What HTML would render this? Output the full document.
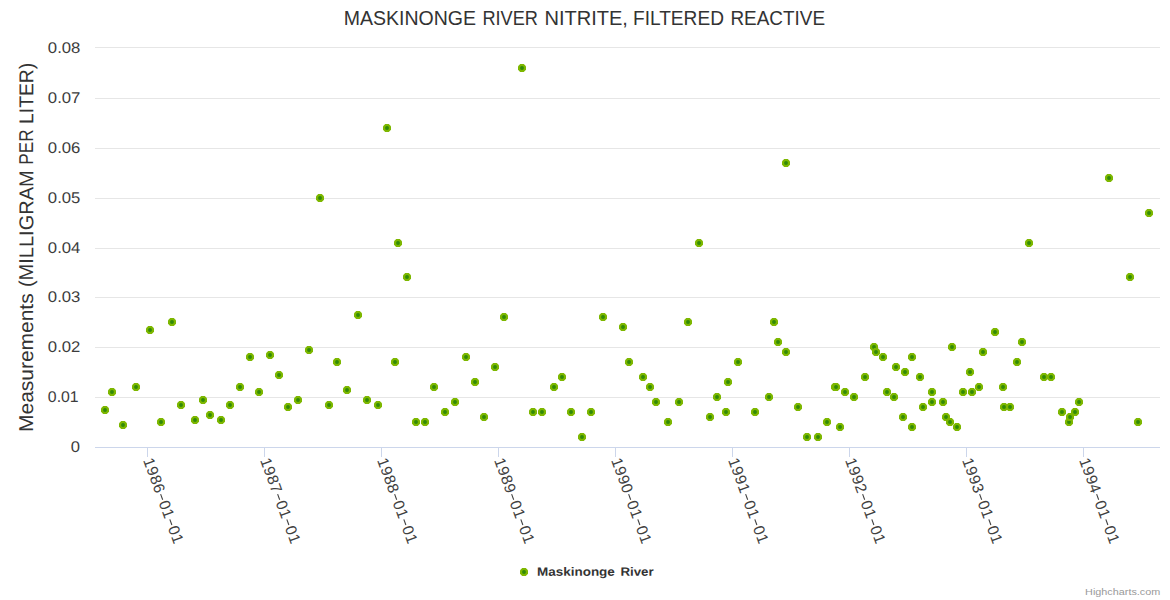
<!DOCTYPE html>
<html><head><meta charset="utf-8"><title>Maskinonge River Nitrite</title>
<style>
html,body{margin:0;padding:0;background:#fff;}
body{width:1170px;height:600px;overflow:hidden;font-family:"Liberation Sans",sans-serif;}
svg{display:block;font-family:"Liberation Sans",sans-serif;}
</style></head><body>
<svg width="1170" height="600" viewBox="0 0 1170 600">
<rect width="1170" height="600" fill="#ffffff"/>
<g fill="#e6e6e6" shape-rendering="crispEdges"><rect x="95" y="47" width="1065" height="1"/><rect x="95" y="98" width="1065" height="1"/><rect x="95" y="148" width="1065" height="1"/><rect x="95" y="198" width="1065" height="1"/><rect x="95" y="248" width="1065" height="1"/><rect x="95" y="297" width="1065" height="1"/><rect x="95" y="347" width="1065" height="1"/><rect x="95" y="397" width="1065" height="1"/></g>
<g fill="#ccd6eb" shape-rendering="crispEdges"><rect x="95" y="447" width="1065" height="1"/><rect x="147" y="448" width="1" height="9"/><rect x="264" y="448" width="1" height="9"/><rect x="381" y="448" width="1" height="9"/><rect x="498" y="448" width="1" height="9"/><rect x="615" y="448" width="1" height="9"/><rect x="732" y="448" width="1" height="9"/><rect x="849" y="448" width="1" height="9"/><rect x="966" y="448" width="1" height="9"/><rect x="1083" y="448" width="1" height="9"/></g>
<g font-size="20.5px" fill="#333333"><text x="343.76" y="24.9" textLength="132.27" lengthAdjust="spacingAndGlyphs">MASKINONGE</text><text x="482.42" y="24.9" textLength="55.58" lengthAdjust="spacingAndGlyphs">RIVER</text><text x="544.43" y="24.9" textLength="83.48" lengthAdjust="spacingAndGlyphs">NITRITE,</text><text x="633.01" y="24.9" textLength="90.98" lengthAdjust="spacingAndGlyphs">FILTERED</text><text x="730.42" y="24.9" textLength="94.67" lengthAdjust="spacingAndGlyphs">REACTIVE</text></g>
<g transform="translate(33,500) rotate(-89.97)" font-size="20px" fill="#333333"><text x="68.14" y="0" textLength="138.49" lengthAdjust="spacingAndGlyphs">Measurements</text><text x="212.9" y="0" textLength="116.86" lengthAdjust="spacingAndGlyphs">(MILLIGRAM</text><text x="335.34" y="0" textLength="35.22" lengthAdjust="spacingAndGlyphs">PER</text><text x="376.01" y="0" textLength="61.29" lengthAdjust="spacingAndGlyphs">LITER)</text></g>
<g font-size="15.5px" fill="#3c3c3c"><text transform="rotate(0.03 64 53)" x="47.87" y="53" textLength="32.5" lengthAdjust="spacingAndGlyphs">0.08</text><text transform="rotate(0.03 64 103)" x="47.87" y="103" textLength="32.5" lengthAdjust="spacingAndGlyphs">0.07</text><text transform="rotate(0.03 64 153)" x="47.87" y="153" textLength="32.5" lengthAdjust="spacingAndGlyphs">0.06</text><text transform="rotate(0.03 64 203)" x="47.87" y="203" textLength="32.5" lengthAdjust="spacingAndGlyphs">0.05</text><text transform="rotate(0.03 64 253)" x="47.87" y="253" textLength="32.5" lengthAdjust="spacingAndGlyphs">0.04</text><text transform="rotate(0.03 64 302)" x="47.87" y="302" textLength="32.5" lengthAdjust="spacingAndGlyphs">0.03</text><text transform="rotate(0.03 64 352)" x="47.87" y="352" textLength="32.5" lengthAdjust="spacingAndGlyphs">0.02</text><text transform="rotate(0.03 64 402)" x="47.87" y="402" textLength="30.8" lengthAdjust="spacingAndGlyphs">0.01</text><text transform="rotate(0.03 75 452)" x="70.89" y="452" textLength="9.23" lengthAdjust="spacingAndGlyphs">0</text></g>
<g fill="#404040"><g transform="translate(143.10,460.20) rotate(70)" font-size="15.5px"><text x="0.00 9.18 18.36 27.54" y="0">1986</text><text x="45.22 54.40" y="0">01</text><text x="72.08 81.26" y="0">01</text><rect x="37.92" y="-5.4" width="6" height="1.1"/><rect x="64.78" y="-5.4" width="6" height="1.1"/></g><g transform="translate(260.10,460.20) rotate(70)" font-size="15.5px"><text x="0.00 9.18 18.36 27.54" y="0">1987</text><text x="45.22 54.40" y="0">01</text><text x="72.08 81.26" y="0">01</text><rect x="37.92" y="-5.4" width="6" height="1.1"/><rect x="64.78" y="-5.4" width="6" height="1.1"/></g><g transform="translate(377.10,460.20) rotate(70)" font-size="15.5px"><text x="0.00 9.18 18.36 27.54" y="0">1988</text><text x="45.22 54.40" y="0">01</text><text x="72.08 81.26" y="0">01</text><rect x="37.92" y="-5.4" width="6" height="1.1"/><rect x="64.78" y="-5.4" width="6" height="1.1"/></g><g transform="translate(494.10,460.20) rotate(70)" font-size="15.5px"><text x="0.00 9.18 18.36 27.54" y="0">1989</text><text x="45.22 54.40" y="0">01</text><text x="72.08 81.26" y="0">01</text><rect x="37.92" y="-5.4" width="6" height="1.1"/><rect x="64.78" y="-5.4" width="6" height="1.1"/></g><g transform="translate(611.10,460.20) rotate(70)" font-size="15.5px"><text x="0.00 9.18 18.36 27.54" y="0">1990</text><text x="45.22 54.40" y="0">01</text><text x="72.08 81.26" y="0">01</text><rect x="37.92" y="-5.4" width="6" height="1.1"/><rect x="64.78" y="-5.4" width="6" height="1.1"/></g><g transform="translate(728.10,460.20) rotate(70)" font-size="15.5px"><text x="0.00 9.18 18.36 27.54" y="0">1991</text><text x="45.22 54.40" y="0">01</text><text x="72.08 81.26" y="0">01</text><rect x="37.92" y="-5.4" width="6" height="1.1"/><rect x="64.78" y="-5.4" width="6" height="1.1"/></g><g transform="translate(845.10,460.20) rotate(70)" font-size="15.5px"><text x="0.00 9.18 18.36 27.54" y="0">1992</text><text x="45.22 54.40" y="0">01</text><text x="72.08 81.26" y="0">01</text><rect x="37.92" y="-5.4" width="6" height="1.1"/><rect x="64.78" y="-5.4" width="6" height="1.1"/></g><g transform="translate(962.10,460.20) rotate(70)" font-size="15.5px"><text x="0.00 9.18 18.36 27.54" y="0">1993</text><text x="45.22 54.40" y="0">01</text><text x="72.08 81.26" y="0">01</text><rect x="37.92" y="-5.4" width="6" height="1.1"/><rect x="64.78" y="-5.4" width="6" height="1.1"/></g><g transform="translate(1079.10,460.20) rotate(70)" font-size="15.5px"><text x="0.00 9.18 18.36 27.54" y="0">1994</text><text x="45.22 54.40" y="0">01</text><text x="72.08 81.26" y="0">01</text><rect x="37.92" y="-5.4" width="6" height="1.1"/><rect x="64.78" y="-5.4" width="6" height="1.1"/></g></g>
<g><path d="M103.2 406H106.8L109 408.2V411.8L106.8 414H103.2L101 411.8V408.2Z" fill="#7db700"/><circle cx="105" cy="410" r="1.95" fill="#318a08"/><path d="M110.2 388H113.8L116 390.2V393.8L113.8 396H110.2L108 393.8V390.2Z" fill="#7db700"/><circle cx="112" cy="392" r="1.95" fill="#318a08"/><path d="M121.2 421H124.8L127 423.2V426.8L124.8 429H121.2L119 426.8V423.2Z" fill="#7db700"/><circle cx="123" cy="425" r="1.95" fill="#318a08"/><path d="M134.2 383H137.8L140 385.2V388.8L137.8 391H134.2L132 388.8V385.2Z" fill="#7db700"/><circle cx="136" cy="387" r="1.95" fill="#318a08"/><path d="M148.2 326H151.8L154 328.2V331.8L151.8 334H148.2L146 331.8V328.2Z" fill="#7db700"/><circle cx="150" cy="330" r="1.95" fill="#318a08"/><path d="M159.2 418H162.8L165 420.2V423.8L162.8 426H159.2L157 423.8V420.2Z" fill="#7db700"/><circle cx="161" cy="422" r="1.95" fill="#318a08"/><path d="M170.2 318H173.8L176 320.2V323.8L173.8 326H170.2L168 323.8V320.2Z" fill="#7db700"/><circle cx="172" cy="322" r="1.95" fill="#318a08"/><path d="M179.2 401H182.8L185 403.2V406.8L182.8 409H179.2L177 406.8V403.2Z" fill="#7db700"/><circle cx="181" cy="405" r="1.95" fill="#318a08"/><path d="M193.2 416H196.8L199 418.2V421.8L196.8 424H193.2L191 421.8V418.2Z" fill="#7db700"/><circle cx="195" cy="420" r="1.95" fill="#318a08"/><path d="M201.2 396H204.8L207 398.2V401.8L204.8 404H201.2L199 401.8V398.2Z" fill="#7db700"/><circle cx="203" cy="400" r="1.95" fill="#318a08"/><path d="M208.2 411H211.8L214 413.2V416.8L211.8 419H208.2L206 416.8V413.2Z" fill="#7db700"/><circle cx="210" cy="415" r="1.95" fill="#318a08"/><path d="M219.2 416H222.8L225 418.2V421.8L222.8 424H219.2L217 421.8V418.2Z" fill="#7db700"/><circle cx="221" cy="420" r="1.95" fill="#318a08"/><path d="M228.2 401H231.8L234 403.2V406.8L231.8 409H228.2L226 406.8V403.2Z" fill="#7db700"/><circle cx="230" cy="405" r="1.95" fill="#318a08"/><path d="M238.2 383H241.8L244 385.2V388.8L241.8 391H238.2L236 388.8V385.2Z" fill="#7db700"/><circle cx="240" cy="387" r="1.95" fill="#318a08"/><path d="M248.2 353H251.8L254 355.2V358.8L251.8 361H248.2L246 358.8V355.2Z" fill="#7db700"/><circle cx="250" cy="357" r="1.95" fill="#318a08"/><path d="M257.2 388H260.8L263 390.2V393.8L260.8 396H257.2L255 393.8V390.2Z" fill="#7db700"/><circle cx="259" cy="392" r="1.95" fill="#318a08"/><path d="M268.2 351H271.8L274 353.2V356.8L271.8 359H268.2L266 356.8V353.2Z" fill="#7db700"/><circle cx="270" cy="355" r="1.95" fill="#318a08"/><path d="M277.2 371H280.8L283 373.2V376.8L280.8 379H277.2L275 376.8V373.2Z" fill="#7db700"/><circle cx="279" cy="375" r="1.95" fill="#318a08"/><path d="M286.2 403H289.8L292 405.2V408.8L289.8 411H286.2L284 408.8V405.2Z" fill="#7db700"/><circle cx="288" cy="407" r="1.95" fill="#318a08"/><path d="M296.2 396H299.8L302 398.2V401.8L299.8 404H296.2L294 401.8V398.2Z" fill="#7db700"/><circle cx="298" cy="400" r="1.95" fill="#318a08"/><path d="M307.2 346H310.8L313 348.2V351.8L310.8 354H307.2L305 351.8V348.2Z" fill="#7db700"/><circle cx="309" cy="350" r="1.95" fill="#318a08"/><path d="M318.2 194H321.8L324 196.2V199.8L321.8 202H318.2L316 199.8V196.2Z" fill="#7db700"/><circle cx="320" cy="198" r="1.95" fill="#318a08"/><path d="M327.2 401H330.8L333 403.2V406.8L330.8 409H327.2L325 406.8V403.2Z" fill="#7db700"/><circle cx="329" cy="405" r="1.95" fill="#318a08"/><path d="M335.2 358H338.8L341 360.2V363.8L338.8 366H335.2L333 363.8V360.2Z" fill="#7db700"/><circle cx="337" cy="362" r="1.95" fill="#318a08"/><path d="M345.2 386H348.8L351 388.2V391.8L348.8 394H345.2L343 391.8V388.2Z" fill="#7db700"/><circle cx="347" cy="390" r="1.95" fill="#318a08"/><path d="M356.2 311H359.8L362 313.2V316.8L359.8 319H356.2L354 316.8V313.2Z" fill="#7db700"/><circle cx="358" cy="315" r="1.95" fill="#318a08"/><path d="M365.2 396H368.8L371 398.2V401.8L368.8 404H365.2L363 401.8V398.2Z" fill="#7db700"/><circle cx="367" cy="400" r="1.95" fill="#318a08"/><path d="M376.2 401H379.8L382 403.2V406.8L379.8 409H376.2L374 406.8V403.2Z" fill="#7db700"/><circle cx="378" cy="405" r="1.95" fill="#318a08"/><path d="M385.2 124H388.8L391 126.2V129.8L388.8 132H385.2L383 129.8V126.2Z" fill="#7db700"/><circle cx="387" cy="128" r="1.95" fill="#318a08"/><path d="M393.2 358H396.8L399 360.2V363.8L396.8 366H393.2L391 363.8V360.2Z" fill="#7db700"/><circle cx="395" cy="362" r="1.95" fill="#318a08"/><path d="M396.2 239H399.8L402 241.2V244.8L399.8 247H396.2L394 244.8V241.2Z" fill="#7db700"/><circle cx="398" cy="243" r="1.95" fill="#318a08"/><path d="M405.2 273H408.8L411 275.2V278.8L408.8 281H405.2L403 278.8V275.2Z" fill="#7db700"/><circle cx="407" cy="277" r="1.95" fill="#318a08"/><path d="M414.2 418H417.8L420 420.2V423.8L417.8 426H414.2L412 423.8V420.2Z" fill="#7db700"/><circle cx="416" cy="422" r="1.95" fill="#318a08"/><path d="M423.2 418H426.8L429 420.2V423.8L426.8 426H423.2L421 423.8V420.2Z" fill="#7db700"/><circle cx="425" cy="422" r="1.95" fill="#318a08"/><path d="M432.2 383H435.8L438 385.2V388.8L435.8 391H432.2L430 388.8V385.2Z" fill="#7db700"/><circle cx="434" cy="387" r="1.95" fill="#318a08"/><path d="M443.2 408H446.8L449 410.2V413.8L446.8 416H443.2L441 413.8V410.2Z" fill="#7db700"/><circle cx="445" cy="412" r="1.95" fill="#318a08"/><path d="M453.2 398H456.8L459 400.2V403.8L456.8 406H453.2L451 403.8V400.2Z" fill="#7db700"/><circle cx="455" cy="402" r="1.95" fill="#318a08"/><path d="M464.2 353H467.8L470 355.2V358.8L467.8 361H464.2L462 358.8V355.2Z" fill="#7db700"/><circle cx="466" cy="357" r="1.95" fill="#318a08"/><path d="M473.2 378H476.8L479 380.2V383.8L476.8 386H473.2L471 383.8V380.2Z" fill="#7db700"/><circle cx="475" cy="382" r="1.95" fill="#318a08"/><path d="M482.2 413H485.8L488 415.2V418.8L485.8 421H482.2L480 418.8V415.2Z" fill="#7db700"/><circle cx="484" cy="417" r="1.95" fill="#318a08"/><path d="M493.2 363H496.8L499 365.2V368.8L496.8 371H493.2L491 368.8V365.2Z" fill="#7db700"/><circle cx="495" cy="367" r="1.95" fill="#318a08"/><path d="M502.2 313H505.8L508 315.2V318.8L505.8 321H502.2L500 318.8V315.2Z" fill="#7db700"/><circle cx="504" cy="317" r="1.95" fill="#318a08"/><path d="M520.2 64H523.8L526 66.2V69.8L523.8 72H520.2L518 69.8V66.2Z" fill="#7db700"/><circle cx="522" cy="68" r="1.95" fill="#318a08"/><path d="M531.2 408H534.8L537 410.2V413.8L534.8 416H531.2L529 413.8V410.2Z" fill="#7db700"/><circle cx="533" cy="412" r="1.95" fill="#318a08"/><path d="M540.2 408H543.8L546 410.2V413.8L543.8 416H540.2L538 413.8V410.2Z" fill="#7db700"/><circle cx="542" cy="412" r="1.95" fill="#318a08"/><path d="M552.2 383H555.8L558 385.2V388.8L555.8 391H552.2L550 388.8V385.2Z" fill="#7db700"/><circle cx="554" cy="387" r="1.95" fill="#318a08"/><path d="M560.2 373H563.8L566 375.2V378.8L563.8 381H560.2L558 378.8V375.2Z" fill="#7db700"/><circle cx="562" cy="377" r="1.95" fill="#318a08"/><path d="M569.2 408H572.8L575 410.2V413.8L572.8 416H569.2L567 413.8V410.2Z" fill="#7db700"/><circle cx="571" cy="412" r="1.95" fill="#318a08"/><path d="M580.2 433H583.8L586 435.2V438.8L583.8 441H580.2L578 438.8V435.2Z" fill="#7db700"/><circle cx="582" cy="437" r="1.95" fill="#318a08"/><path d="M589.2 408H592.8L595 410.2V413.8L592.8 416H589.2L587 413.8V410.2Z" fill="#7db700"/><circle cx="591" cy="412" r="1.95" fill="#318a08"/><path d="M601.2 313H604.8L607 315.2V318.8L604.8 321H601.2L599 318.8V315.2Z" fill="#7db700"/><circle cx="603" cy="317" r="1.95" fill="#318a08"/><path d="M621.2 323H624.8L627 325.2V328.8L624.8 331H621.2L619 328.8V325.2Z" fill="#7db700"/><circle cx="623" cy="327" r="1.95" fill="#318a08"/><path d="M627.2 358H630.8L633 360.2V363.8L630.8 366H627.2L625 363.8V360.2Z" fill="#7db700"/><circle cx="629" cy="362" r="1.95" fill="#318a08"/><path d="M641.2 373H644.8L647 375.2V378.8L644.8 381H641.2L639 378.8V375.2Z" fill="#7db700"/><circle cx="643" cy="377" r="1.95" fill="#318a08"/><path d="M648.2 383H651.8L654 385.2V388.8L651.8 391H648.2L646 388.8V385.2Z" fill="#7db700"/><circle cx="650" cy="387" r="1.95" fill="#318a08"/><path d="M654.2 398H657.8L660 400.2V403.8L657.8 406H654.2L652 403.8V400.2Z" fill="#7db700"/><circle cx="656" cy="402" r="1.95" fill="#318a08"/><path d="M666.2 418H669.8L672 420.2V423.8L669.8 426H666.2L664 423.8V420.2Z" fill="#7db700"/><circle cx="668" cy="422" r="1.95" fill="#318a08"/><path d="M677.2 398H680.8L683 400.2V403.8L680.8 406H677.2L675 403.8V400.2Z" fill="#7db700"/><circle cx="679" cy="402" r="1.95" fill="#318a08"/><path d="M686.2 318H689.8L692 320.2V323.8L689.8 326H686.2L684 323.8V320.2Z" fill="#7db700"/><circle cx="688" cy="322" r="1.95" fill="#318a08"/><path d="M697.2 239H700.8L703 241.2V244.8L700.8 247H697.2L695 244.8V241.2Z" fill="#7db700"/><circle cx="699" cy="243" r="1.95" fill="#318a08"/><path d="M708.2 413H711.8L714 415.2V418.8L711.8 421H708.2L706 418.8V415.2Z" fill="#7db700"/><circle cx="710" cy="417" r="1.95" fill="#318a08"/><path d="M715.2 393H718.8L721 395.2V398.8L718.8 401H715.2L713 398.8V395.2Z" fill="#7db700"/><circle cx="717" cy="397" r="1.95" fill="#318a08"/><path d="M724.2 408H727.8L730 410.2V413.8L727.8 416H724.2L722 413.8V410.2Z" fill="#7db700"/><circle cx="726" cy="412" r="1.95" fill="#318a08"/><path d="M726.2 378H729.8L732 380.2V383.8L729.8 386H726.2L724 383.8V380.2Z" fill="#7db700"/><circle cx="728" cy="382" r="1.95" fill="#318a08"/><path d="M736.2 358H739.8L742 360.2V363.8L739.8 366H736.2L734 363.8V360.2Z" fill="#7db700"/><circle cx="738" cy="362" r="1.95" fill="#318a08"/><path d="M753.2 408H756.8L759 410.2V413.8L756.8 416H753.2L751 413.8V410.2Z" fill="#7db700"/><circle cx="755" cy="412" r="1.95" fill="#318a08"/><path d="M767.2 393H770.8L773 395.2V398.8L770.8 401H767.2L765 398.8V395.2Z" fill="#7db700"/><circle cx="769" cy="397" r="1.95" fill="#318a08"/><path d="M772.2 318H775.8L778 320.2V323.8L775.8 326H772.2L770 323.8V320.2Z" fill="#7db700"/><circle cx="774" cy="322" r="1.95" fill="#318a08"/><path d="M776.2 338H779.8L782 340.2V343.8L779.8 346H776.2L774 343.8V340.2Z" fill="#7db700"/><circle cx="778" cy="342" r="1.95" fill="#318a08"/><path d="M784.2 348H787.8L790 350.2V353.8L787.8 356H784.2L782 353.8V350.2Z" fill="#7db700"/><circle cx="786" cy="352" r="1.95" fill="#318a08"/><path d="M784.2 159H787.8L790 161.2V164.8L787.8 167H784.2L782 164.8V161.2Z" fill="#7db700"/><circle cx="786" cy="163" r="1.95" fill="#318a08"/><path d="M796.2 403H799.8L802 405.2V408.8L799.8 411H796.2L794 408.8V405.2Z" fill="#7db700"/><circle cx="798" cy="407" r="1.95" fill="#318a08"/><path d="M805.2 433H808.8L811 435.2V438.8L808.8 441H805.2L803 438.8V435.2Z" fill="#7db700"/><circle cx="807" cy="437" r="1.95" fill="#318a08"/><path d="M816.2 433H819.8L822 435.2V438.8L819.8 441H816.2L814 438.8V435.2Z" fill="#7db700"/><circle cx="818" cy="437" r="1.95" fill="#318a08"/><path d="M825.2 418H828.8L831 420.2V423.8L828.8 426H825.2L823 423.8V420.2Z" fill="#7db700"/><circle cx="827" cy="422" r="1.95" fill="#318a08"/><path d="M833.2 383H836.8L839 385.2V388.8L836.8 391H833.2L831 388.8V385.2Z" fill="#7db700"/><circle cx="835" cy="387" r="1.95" fill="#318a08"/><path d="M834.2 383H837.8L840 385.2V388.8L837.8 391H834.2L832 388.8V385.2Z" fill="#7db700"/><circle cx="836" cy="387" r="1.95" fill="#318a08"/><path d="M838.2 423H841.8L844 425.2V428.8L841.8 431H838.2L836 428.8V425.2Z" fill="#7db700"/><circle cx="840" cy="427" r="1.95" fill="#318a08"/><path d="M843.2 388H846.8L849 390.2V393.8L846.8 396H843.2L841 393.8V390.2Z" fill="#7db700"/><circle cx="845" cy="392" r="1.95" fill="#318a08"/><path d="M852.2 393H855.8L858 395.2V398.8L855.8 401H852.2L850 398.8V395.2Z" fill="#7db700"/><circle cx="854" cy="397" r="1.95" fill="#318a08"/><path d="M863.2 373H866.8L869 375.2V378.8L866.8 381H863.2L861 378.8V375.2Z" fill="#7db700"/><circle cx="865" cy="377" r="1.95" fill="#318a08"/><path d="M872.2 343H875.8L878 345.2V348.8L875.8 351H872.2L870 348.8V345.2Z" fill="#7db700"/><circle cx="874" cy="347" r="1.95" fill="#318a08"/><path d="M874.2 348H877.8L880 350.2V353.8L877.8 356H874.2L872 353.8V350.2Z" fill="#7db700"/><circle cx="876" cy="352" r="1.95" fill="#318a08"/><path d="M881.2 353H884.8L887 355.2V358.8L884.8 361H881.2L879 358.8V355.2Z" fill="#7db700"/><circle cx="883" cy="357" r="1.95" fill="#318a08"/><path d="M885.2 388H888.8L891 390.2V393.8L888.8 396H885.2L883 393.8V390.2Z" fill="#7db700"/><circle cx="887" cy="392" r="1.95" fill="#318a08"/><path d="M892.2 393H895.8L898 395.2V398.8L895.8 401H892.2L890 398.8V395.2Z" fill="#7db700"/><circle cx="894" cy="397" r="1.95" fill="#318a08"/><path d="M894.2 363H897.8L900 365.2V368.8L897.8 371H894.2L892 368.8V365.2Z" fill="#7db700"/><circle cx="896" cy="367" r="1.95" fill="#318a08"/><path d="M901.2 413H904.8L907 415.2V418.8L904.8 421H901.2L899 418.8V415.2Z" fill="#7db700"/><circle cx="903" cy="417" r="1.95" fill="#318a08"/><path d="M903.2 368H906.8L909 370.2V373.8L906.8 376H903.2L901 373.8V370.2Z" fill="#7db700"/><circle cx="905" cy="372" r="1.95" fill="#318a08"/><path d="M910.2 353H913.8L916 355.2V358.8L913.8 361H910.2L908 358.8V355.2Z" fill="#7db700"/><circle cx="912" cy="357" r="1.95" fill="#318a08"/><path d="M910.2 423H913.8L916 425.2V428.8L913.8 431H910.2L908 428.8V425.2Z" fill="#7db700"/><circle cx="912" cy="427" r="1.95" fill="#318a08"/><path d="M918.2 373H921.8L924 375.2V378.8L921.8 381H918.2L916 378.8V375.2Z" fill="#7db700"/><circle cx="920" cy="377" r="1.95" fill="#318a08"/><path d="M921.2 403H924.8L927 405.2V408.8L924.8 411H921.2L919 408.8V405.2Z" fill="#7db700"/><circle cx="923" cy="407" r="1.95" fill="#318a08"/><path d="M930.2 388H933.8L936 390.2V393.8L933.8 396H930.2L928 393.8V390.2Z" fill="#7db700"/><circle cx="932" cy="392" r="1.95" fill="#318a08"/><path d="M930.2 398H933.8L936 400.2V403.8L933.8 406H930.2L928 403.8V400.2Z" fill="#7db700"/><circle cx="932" cy="402" r="1.95" fill="#318a08"/><path d="M941.2 398H944.8L947 400.2V403.8L944.8 406H941.2L939 403.8V400.2Z" fill="#7db700"/><circle cx="943" cy="402" r="1.95" fill="#318a08"/><path d="M944.2 413H947.8L950 415.2V418.8L947.8 421H944.2L942 418.8V415.2Z" fill="#7db700"/><circle cx="946" cy="417" r="1.95" fill="#318a08"/><path d="M948.2 418H951.8L954 420.2V423.8L951.8 426H948.2L946 423.8V420.2Z" fill="#7db700"/><circle cx="950" cy="422" r="1.95" fill="#318a08"/><path d="M955.2 423H958.8L961 425.2V428.8L958.8 431H955.2L953 428.8V425.2Z" fill="#7db700"/><circle cx="957" cy="427" r="1.95" fill="#318a08"/><path d="M950.2 343H953.8L956 345.2V348.8L953.8 351H950.2L948 348.8V345.2Z" fill="#7db700"/><circle cx="952" cy="347" r="1.95" fill="#318a08"/><path d="M961.2 388H964.8L967 390.2V393.8L964.8 396H961.2L959 393.8V390.2Z" fill="#7db700"/><circle cx="963" cy="392" r="1.95" fill="#318a08"/><path d="M968.2 368H971.8L974 370.2V373.8L971.8 376H968.2L966 373.8V370.2Z" fill="#7db700"/><circle cx="970" cy="372" r="1.95" fill="#318a08"/><path d="M970.2 388H973.8L976 390.2V393.8L973.8 396H970.2L968 393.8V390.2Z" fill="#7db700"/><circle cx="972" cy="392" r="1.95" fill="#318a08"/><path d="M977.2 383H980.8L983 385.2V388.8L980.8 391H977.2L975 388.8V385.2Z" fill="#7db700"/><circle cx="979" cy="387" r="1.95" fill="#318a08"/><path d="M981.2 348H984.8L987 350.2V353.8L984.8 356H981.2L979 353.8V350.2Z" fill="#7db700"/><circle cx="983" cy="352" r="1.95" fill="#318a08"/><path d="M993.2 328H996.8L999 330.2V333.8L996.8 336H993.2L991 333.8V330.2Z" fill="#7db700"/><circle cx="995" cy="332" r="1.95" fill="#318a08"/><path d="M1001.2 383H1004.8L1007 385.2V388.8L1004.8 391H1001.2L999 388.8V385.2Z" fill="#7db700"/><circle cx="1003" cy="387" r="1.95" fill="#318a08"/><path d="M1002.2 403H1005.8L1008 405.2V408.8L1005.8 411H1002.2L1000 408.8V405.2Z" fill="#7db700"/><circle cx="1004" cy="407" r="1.95" fill="#318a08"/><path d="M1008.2 403H1011.8L1014 405.2V408.8L1011.8 411H1008.2L1006 408.8V405.2Z" fill="#7db700"/><circle cx="1010" cy="407" r="1.95" fill="#318a08"/><path d="M1015.2 358H1018.8L1021 360.2V363.8L1018.8 366H1015.2L1013 363.8V360.2Z" fill="#7db700"/><circle cx="1017" cy="362" r="1.95" fill="#318a08"/><path d="M1020.2 338H1023.8L1026 340.2V343.8L1023.8 346H1020.2L1018 343.8V340.2Z" fill="#7db700"/><circle cx="1022" cy="342" r="1.95" fill="#318a08"/><path d="M1027.2 239H1030.8L1033 241.2V244.8L1030.8 247H1027.2L1025 244.8V241.2Z" fill="#7db700"/><circle cx="1029" cy="243" r="1.95" fill="#318a08"/><path d="M1042.2 373H1045.8L1048 375.2V378.8L1045.8 381H1042.2L1040 378.8V375.2Z" fill="#7db700"/><circle cx="1044" cy="377" r="1.95" fill="#318a08"/><path d="M1049.2 373H1052.8L1055 375.2V378.8L1052.8 381H1049.2L1047 378.8V375.2Z" fill="#7db700"/><circle cx="1051" cy="377" r="1.95" fill="#318a08"/><path d="M1060.2 408H1063.8L1066 410.2V413.8L1063.8 416H1060.2L1058 413.8V410.2Z" fill="#7db700"/><circle cx="1062" cy="412" r="1.95" fill="#318a08"/><path d="M1067.2 418H1070.8L1073 420.2V423.8L1070.8 426H1067.2L1065 423.8V420.2Z" fill="#7db700"/><circle cx="1069" cy="422" r="1.95" fill="#318a08"/><path d="M1068.2 413H1071.8L1074 415.2V418.8L1071.8 421H1068.2L1066 418.8V415.2Z" fill="#7db700"/><circle cx="1070" cy="417" r="1.95" fill="#318a08"/><path d="M1073.2 408H1076.8L1079 410.2V413.8L1076.8 416H1073.2L1071 413.8V410.2Z" fill="#7db700"/><circle cx="1075" cy="412" r="1.95" fill="#318a08"/><path d="M1077.2 398H1080.8L1083 400.2V403.8L1080.8 406H1077.2L1075 403.8V400.2Z" fill="#7db700"/><circle cx="1079" cy="402" r="1.95" fill="#318a08"/><path d="M1107.2 174H1110.8L1113 176.2V179.8L1110.8 182H1107.2L1105 179.8V176.2Z" fill="#7db700"/><circle cx="1109" cy="178" r="1.95" fill="#318a08"/><path d="M1128.2 273H1131.8L1134 275.2V278.8L1131.8 281H1128.2L1126 278.8V275.2Z" fill="#7db700"/><circle cx="1130" cy="277" r="1.95" fill="#318a08"/><path d="M1136.2 418H1139.8L1142 420.2V423.8L1139.8 426H1136.2L1134 423.8V420.2Z" fill="#7db700"/><circle cx="1138" cy="422" r="1.95" fill="#318a08"/><path d="M1147.2 209H1150.8L1153 211.2V214.8L1150.8 217H1147.2L1145 214.8V211.2Z" fill="#7db700"/><circle cx="1149" cy="213" r="1.95" fill="#318a08"/></g>
<path d="M522.2 568H525.8L528 570.2V573.8L525.8 576H522.2L520 573.8V570.2Z" fill="#7db700"/><circle cx="524" cy="572" r="1.95" fill="#318a08"/>
<g transform="rotate(0.03 595 575.7)" font-size="12px" font-weight="bold" fill="#333333"><text x="536.99" y="575.7" textLength="77.87" lengthAdjust="spacingAndGlyphs">Maskinonge</text><text x="620.45" y="575.7" textLength="33.25" lengthAdjust="spacingAndGlyphs">River</text></g>
<text x="1085.12" y="594.9" font-size="9.5px" fill="#999999" textLength="75.14" lengthAdjust="spacingAndGlyphs">Highcharts.com</text>
</svg>
</body></html>
